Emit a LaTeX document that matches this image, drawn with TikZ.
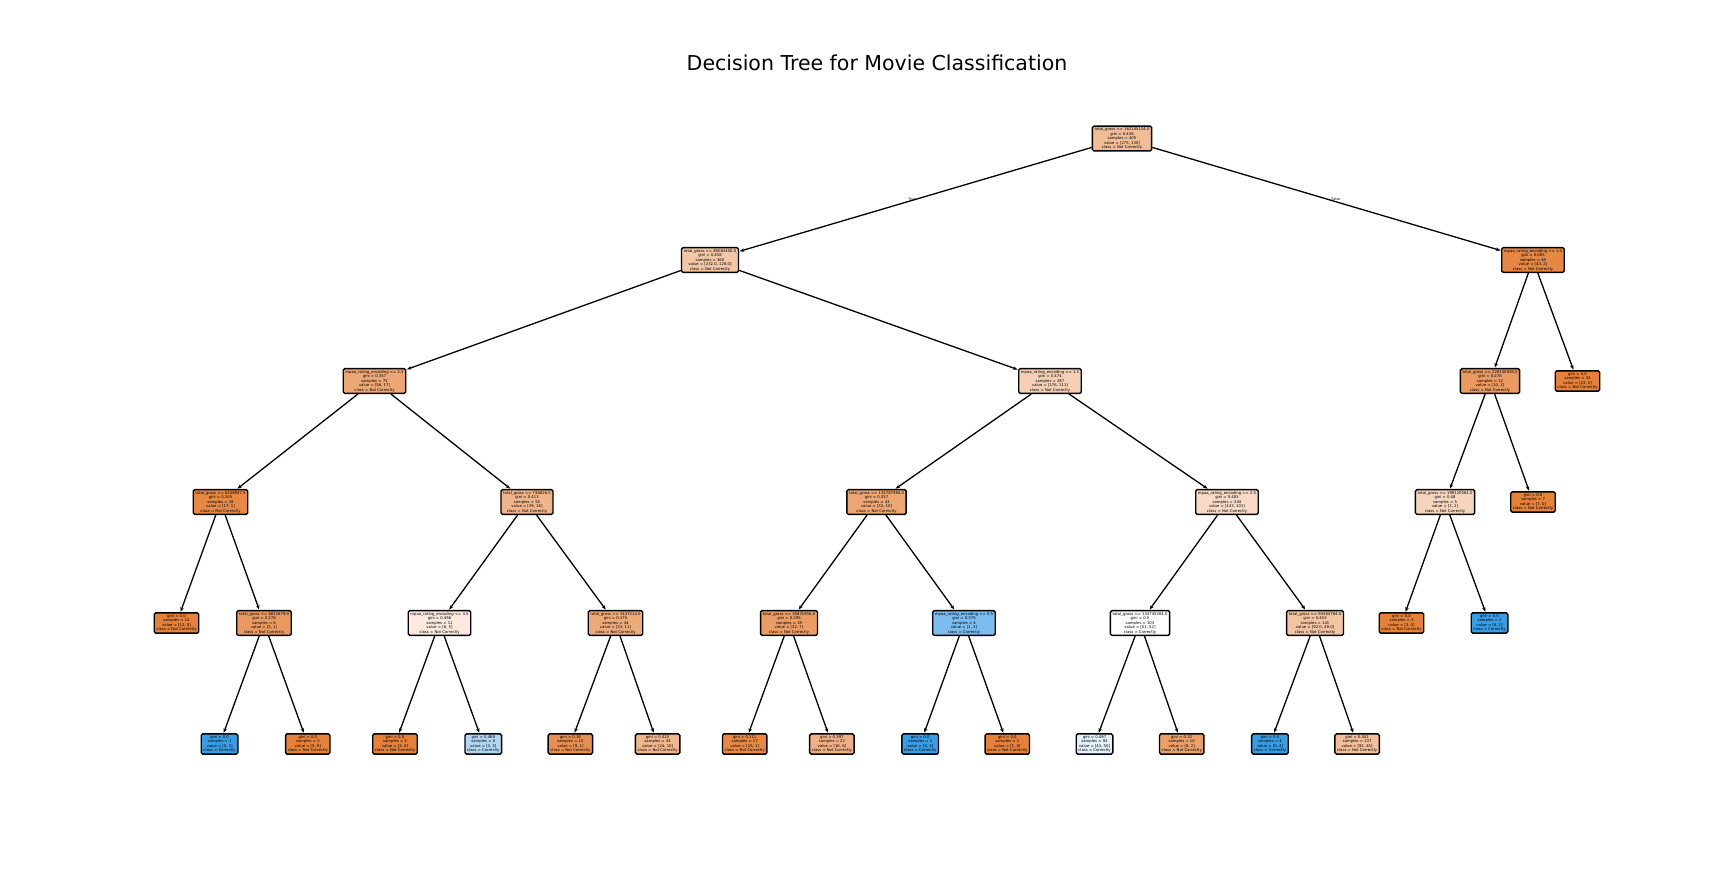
\documentclass[tikz,border=0pt]{standalone}
\usepackage{fontspec}
\setmainfont{DejaVu Sans}
\usetikzlibrary{arrows.meta}
\definecolor{orng}{RGB}{229,129,57}
\definecolor{blu}{RGB}{57,157,229}
\tikzset{
 tn/.style={draw=black, line width=1.4pt, rounded corners=1.5pt, align=center, inner xsep=2.2pt, inner ysep=1.5pt, font=\fontsize{3.8}{4.5}\selectfont},
 onode/.style={tn, fill=orng!#1!white},
 bnode/.style={tn, fill=blu!#1!white},
 ed/.style={line width=1.3pt, -{Stealth[length=4.5pt,width=3.5pt]}, shorten >=0.5pt},
 el/.style={font=\fontsize{3.4}{4}\selectfont, inner sep=0pt},
 ttl/.style={font=\fontsize{20.5}{24}\selectfont}}
\begin{document}
\begin{tikzpicture}[x=1pt,y=-1pt]
\useasboundingbox (0,0) rectangle (1730,872);
\node[ttl] (title) at (877,63) {Decision Tree for Movie Classification};
% level 0
\node[onode=53] (r) at (1122,138.5) {total\_gross <= 162145104.0\\gini = 0.436\\samples = 405\\value = [275, 130]\\class = Not Correctly};
% level 1
\node[onode=45] (a) at (710,260) {total\_gross <= 88083450.0\\gini = 0.458\\samples = 360\\value = [232.0, 128.0]\\class = Not Correctly};
\node[onode=95] (b) at (1533,260) {mpaa\_rating\_encoding <= 1.5\\gini = 0.085\\samples = 45\\value = [43, 2]\\class = Not Correctly};
% level 2
\node[onode=70] (aa) at (374.5,381) {mpaa\_rating\_encoding <= 2.5\\gini = 0.357\\samples = 73\\value = [56, 17]\\class = Not Correctly};
\node[onode=37] (ab) at (1050,381) {mpaa\_rating\_encoding <= 1.5\\gini = 0.474\\samples = 287\\value = [176, 111]\\class = Not Correctly};
\node[onode=80] (ba) at (1490,381) {total\_gross <= 228150928.0\\gini = 0.278\\samples = 12\\value = [10, 2]\\class = Not Correctly};
\node[onode=100] (bb) at (1577.5,381) {gini = 0.0\\samples = 33\\value = [33, 0]\\class = Not Correctly};
% level 3
\node[onode=94] (aaa) at (220.5,502) {total\_gross <= 6348957.5\\gini = 0.105\\samples = 18\\value = [17, 1]\\class = Not Correctly};
\node[onode=59] (aab) at (527,502) {total\_gross <= 748826.5\\gini = 0.413\\samples = 55\\value = [39, 16]\\class = Not Correctly};
\node[onode=70] (aba) at (876.5,502) {total\_gross <= 135787984.0\\gini = 0.357\\samples = 43\\value = [33, 10]\\class = Not Correctly};
\node[onode=29] (abb) at (1227,502) {mpaa\_rating\_encoding <= 2.5\\gini = 0.485\\samples = 244\\value = [143, 101]\\class = Not Correctly};
\node[onode=33] (baa) at (1445,502) {total\_gross <= 199120564.0\\gini = 0.48\\samples = 5\\value = [3, 2]\\class = Not Correctly};
\node[onode=100] (bab) at (1533,502) {gini = 0.0\\samples = 7\\value = [7, 0]\\class = Not Correctly};
% level 4
\node[onode=100] (aaaa) at (176.5,623) {gini = 0.0\\samples = 12\\value = [12, 0]\\class = Not Correctly};
\node[onode=80] (aaab) at (264,623) {total\_gross <= 6821679.0\\gini = 0.278\\samples = 6\\value = [5, 1]\\class = Not Correctly};
\node[onode=17] (aaba) at (439.5,623) {mpaa\_rating\_encoding <= 3.5\\gini = 0.496\\samples = 11\\value = [6, 5]\\class = Not Correctly};
\node[onode=67] (aabb) at (615.5,623) {total\_gross <= 3437214.0\\gini = 0.375\\samples = 44\\value = [33, 11]\\class = Not Correctly};
\node[onode=78] (abaa) at (789,623) {total\_gross <= 34831916.0\\gini = 0.295\\samples = 39\\value = [32, 7]\\class = Not Correctly};
\node[bnode=67] (abab) at (964,623) {mpaa\_rating\_encoding <= 0.5\\gini = 0.375\\samples = 4\\value = [1, 3]\\class = Correctly};
\node[bnode=2] (abba) at (1140,623) {total\_gross <= 134745264.0\\gini = 0.5\\samples = 103\\value = [51, 52]\\class = Correctly};
\node[onode=47] (abbb) at (1315,623) {total\_gross <= 93584784.0\\gini = 0.453\\samples = 141\\value = [92.0, 49.0]\\class = Not Correctly};
\node[onode=100] (baaa) at (1401.5,623) {gini = 0.0\\samples = 3\\value = [3, 0]\\class = Not Correctly};
\node[bnode=100] (baab) at (1489.5,623) {gini = 0.0\\samples = 2\\value = [0, 2]\\class = Correctly};
% level 5
\node[bnode=100] (aaaba) at (219.6,744) {gini = 0.0\\samples = 1\\value = [0, 1]\\class = Correctly};
\node[onode=100] (aaabb) at (307.8,744) {gini = 0.0\\samples = 5\\value = [5, 0]\\class = Not Correctly};
\node[onode=100] (aabaa) at (395,744) {gini = 0.0\\samples = 3\\value = [3, 0]\\class = Not Correctly};
\node[bnode=40] (aabab) at (483.3,744) {gini = 0.469\\samples = 8\\value = [3, 5]\\class = Correctly};
\node[onode=89] (aabba) at (570.4,744) {gini = 0.18\\samples = 10\\value = [9, 1]\\class = Not Correctly};
\node[onode=58] (aabbb) at (657.6,744) {gini = 0.415\\samples = 34\\value = [24, 10]\\class = Not Correctly};
\node[onode=94] (abaaa) at (744.7,744) {gini = 0.111\\samples = 17\\value = [16, 1]\\class = Not Correctly};
\node[onode=62] (abaab) at (831.9,744) {gini = 0.397\\samples = 22\\value = [16, 6]\\class = Not Correctly};
\node[bnode=100] (ababa) at (920.2,744) {gini = 0.0\\samples = 3\\value = [0, 3]\\class = Correctly};
\node[onode=100] (ababb) at (1007.3,744) {gini = 0.0\\samples = 1\\value = [1, 0]\\class = Not Correctly};
\node[bnode=14] (abbaa) at (1094.5,744) {gini = 0.497\\samples = 93\\value = [43, 50]\\class = Correctly};
\node[onode=75] (abbab) at (1181.7,744) {gini = 0.32\\samples = 10\\value = [8, 2]\\class = Not Correctly};
\node[bnode=100] (abbba) at (1269.9,744) {gini = 0.0\\samples = 4\\value = [0, 4]\\class = Correctly};
\node[onode=51] (abbbb) at (1357.1,744) {gini = 0.441\\samples = 137\\value = [92, 45]\\class = Not Correctly};
% edges
\draw[ed] (r) -- (a);
\draw[ed] (r) -- (b);
\draw[ed] (a) -- (aa);
\draw[ed] (a) -- (ab);
\draw[ed] (b) -- (ba);
\draw[ed] (b) -- (bb);
\draw[ed] (aa) -- (aaa);
\draw[ed] (aa) -- (aab);
\draw[ed] (ab) -- (aba);
\draw[ed] (ab) -- (abb);
\draw[ed] (ba) -- (baa);
\draw[ed] (ba) -- (bab);
\draw[ed] (aaa) -- (aaaa);
\draw[ed] (aaa) -- (aaab);
\draw[ed] (aab) -- (aaba);
\draw[ed] (aab) -- (aabb);
\draw[ed] (aba) -- (abaa);
\draw[ed] (aba) -- (abab);
\draw[ed] (abb) -- (abba);
\draw[ed] (abb) -- (abbb);
\draw[ed] (baa) -- (baaa);
\draw[ed] (baa) -- (baab);
\draw[ed] (aaab) -- (aaaba);
\draw[ed] (aaab) -- (aaabb);
\draw[ed] (aaba) -- (aabaa);
\draw[ed] (aaba) -- (aabab);
\draw[ed] (aabb) -- (aabba);
\draw[ed] (aabb) -- (aabbb);
\draw[ed] (abaa) -- (abaaa);
\draw[ed] (abaa) -- (abaab);
\draw[ed] (abab) -- (ababa);
\draw[ed] (abab) -- (ababb);
\draw[ed] (abba) -- (abbaa);
\draw[ed] (abba) -- (abbab);
\draw[ed] (abbb) -- (abbba);
\draw[ed] (abbb) -- (abbbb);
% edge labels
\node[el] (tl) at (912,199) {True};
\node[el] (fl) at (1336,199) {False};
\end{tikzpicture}
\end{document}
